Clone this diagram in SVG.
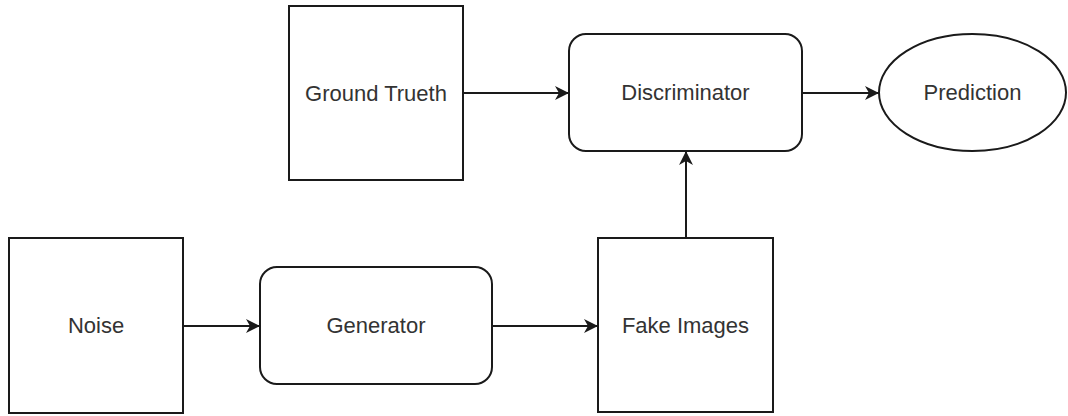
<svg xmlns="http://www.w3.org/2000/svg" width="1068" height="416" viewBox="0 0 1068 416">
  <style>
    .shape { fill: #ffffff; stroke: #1a1a1a; stroke-width: 2; }
    .label { font-family: "Liberation Sans", Arial, Helvetica, sans-serif; font-size: 22px; fill: #333333; text-anchor: middle; dominant-baseline: central; }
    .edge { fill: none; stroke: #1a1a1a; stroke-width: 2; }
  </style>
  <defs>
    <marker id="arrow" markerUnits="userSpaceOnUse" markerWidth="15" markerHeight="15" refX="14" refY="7" orient="auto">
      <path d="M0,0 L14,7 L0,14 L4,7 Z" fill="#1a1a1a"/>
    </marker>
  </defs>

  <rect width="1068" height="416" fill="#ffffff"/>

  <!-- connectors -->
  <g id="connectors">
    <line class="edge" x1="463" y1="93" x2="569" y2="93" marker-end="url(#arrow)"/>
    <line class="edge" x1="802" y1="93" x2="879" y2="93" marker-end="url(#arrow)"/>
    <line class="edge" x1="183" y1="326" x2="260" y2="326" marker-end="url(#arrow)"/>
    <line class="edge" x1="492" y1="326" x2="598" y2="326" marker-end="url(#arrow)"/>
    <line class="edge" x1="686" y1="238" x2="686" y2="151" marker-end="url(#arrow)"/>
  </g>

  <!-- nodes -->
  <g id="ground-truth">
    <rect class="shape" x="289" y="6" width="174" height="174"/>
    <text class="label" x="376" y="93">Ground Trueth</text>
  </g>

  <g id="discriminator">
    <rect class="shape" x="569" y="34" width="233" height="117" rx="17" ry="17"/>
    <text class="label" x="685.5" y="92.5">Discriminator</text>
  </g>

  <g id="prediction">
    <ellipse class="shape" cx="972.5" cy="92.5" rx="93.5" ry="58.5"/>
    <text class="label" x="972.5" y="92.5">Prediction</text>
  </g>

  <g id="noise">
    <rect class="shape" x="9" y="238" width="174" height="175"/>
    <text class="label" x="96" y="325.5">Noise</text>
  </g>

  <g id="generator">
    <rect class="shape" x="260" y="267" width="232" height="117" rx="17" ry="17"/>
    <text class="label" x="376" y="325.5">Generator</text>
  </g>

  <g id="fake-images">
    <rect class="shape" x="598" y="238" width="175" height="174"/>
    <text class="label" x="685.5" y="325">Fake Images</text>
  </g>
</svg>
